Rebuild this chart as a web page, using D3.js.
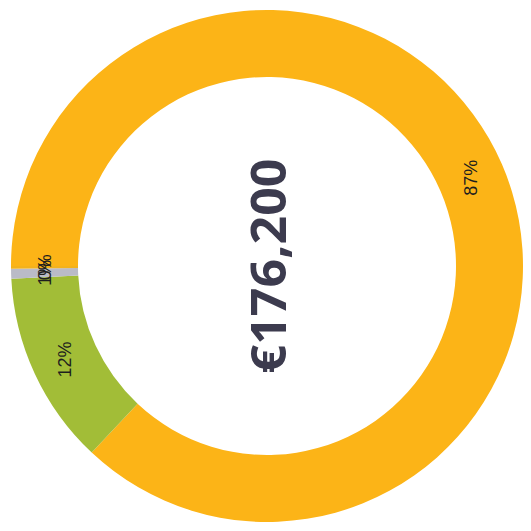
<!DOCTYPE html>
<html>
<head>
<meta charset="utf-8">
<script src="https://cdn.jsdelivr.net/npm/d3@7"></script>
<style>
  body { margin: 0; background: #fff; }
</style>
</head>
<body>
<svg width="531" height="531"></svg>
<script>
// data
var categories = ["Segment A", "Segment B", "Segment C", "Segment D"];
var values = [153300, 21500, 1100, 300];
var colors = ["#fcb417", "#a2bd37", "#babbc7", "#f3b21c"];

var svg = d3.select("svg"),
    cx = 267,
    cy = 266,
    outerR = 256,
    innerR = 189;

var total = d3.sum(values);
var pct = d3.format(".0%");

var pie = d3.pie().sort(null).value(function (d) { return d; });
var arc = d3.arc().innerRadius(innerR).outerRadius(outerR);

// whole chart is turned a quarter turn counterclockwise
var g = svg.append("g")
  .attr("transform", "translate(" + cx + "," + cy + ") rotate(-90)");

var arcs = pie(values);

g.selectAll(".slice")
  .data(arcs)
  .enter()
  .append("path")
  .attr("class", "slice")
  .attr("d", arc)
  .attr("fill", function (d, i) { return colors[i]; });

var labelArc = d3.arc().innerRadius((innerR + outerR) / 2).outerRadius((innerR + outerR) / 2);

g.selectAll(".lbl")
  .data(arcs)
  .enter()
  .append("text")
  .attr("class", "lbl")
  .attr("transform", function (d) { return "translate(" + labelArc.centroid(d) + ")"; })
  .attr("text-anchor", "middle")
  .attr("dominant-baseline", "central")
  .attr("font-family", "Liberation Sans, Arial, sans-serif")
  .attr("font-size", "18px")
  .attr("fill", "#1e1e1e")
  .text(function (d) { return pct(d.value / total); });

g.append("text")
  .attr("x", 0)
  .attr("y", 0)
  .attr("text-anchor", "middle")
  .attr("dominant-baseline", "central")
  .attr("font-family", "Open Sans, sans-serif")
  .attr("font-weight", "bold")
  .attr("font-size", "48px")
  .attr("textLength", 215)
  .attr("lengthAdjust", "spacingAndGlyphs")
  .attr("fill", "#3c3b4e")
  .text("€" + d3.format(",")(total));
</script>
</body>
</html>
